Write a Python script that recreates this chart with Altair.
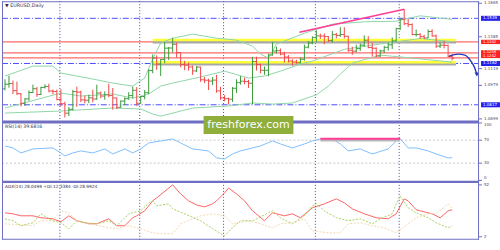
import altair as alt
import pandas as pd

# ---------------- data ----------------
date_labels = ["11 Dec 2015", "23 Dec 2015", "6 Jan 2016", "18 Jan 2016", "28 Jan 2016",
               "9 Feb 2016", "19 Feb 2016", "2 Mar 2016", "14 Mar 2016", "24 Mar 2016",
               "5 Apr 2016", "15 Apr 2016", "27 Apr 2016", "9 May 2016", "19 May 2016"]
label_bars = [0, 8, 16, 24, 32, 40, 48, 56, 64, 72, 80, 88, 96, 104, 112]
month_start_bars = [14, 34, 55, 78, 99]

opens = [1.0950, 1.0989, 1.0994, 1.0935, 1.0910, 1.0829, 1.0866, 1.0920, 1.0951, 1.0903, 1.0962, 1.0970, 1.0932, 1.0928,
         1.0861, 1.0826, 1.0747, 1.0779, 1.0927, 1.0923, 1.0858, 1.0855, 1.0875, 1.0865, 1.0915, 1.0890, 1.0900, 1.0894,
         1.0874, 1.0796, 1.0848, 1.0868, 1.0894, 1.0938,
         1.0830, 1.0886, 1.0918, 1.1104, 1.1208, 1.1157, 1.1196, 1.1290, 1.1291, 1.1322, 1.1254, 1.1153, 1.1148, 1.1133,
         1.1100, 1.1132, 1.1026, 1.1022, 1.1015, 1.1023, 1.0933,
         1.0874, 1.0868, 1.0864, 1.0955, 1.1002, 1.1014, 1.1011, 1.0997, 1.1178, 1.1154, 1.1105, 1.1105, 1.1233, 1.1266,
         1.1269, 1.1240, 1.1216, 1.1183, 1.1174, 1.1168, 1.1197, 1.1298, 1.1333,
         1.1380, 1.1392, 1.1391, 1.1387, 1.1353, 1.1403, 1.1396, 1.1404, 1.1389, 1.1272, 1.1265, 1.1286, 1.1315, 1.1356,
         1.1295, 1.1289, 1.1225, 1.1267, 1.1297, 1.1318, 1.1350,
         1.1453, 1.1532, 1.1494, 1.1487, 1.1404, 1.1404, 1.1386, 1.1375, 1.1429, 1.1392, 1.1307, 1.1315, 1.1313, 1.1220]
highs = [1.1030, 1.1060, 1.1019, 1.1010, 1.0915, 1.0873, 1.0937, 1.0985, 1.0966, 1.0968, 1.0988, 1.0993, 1.0945, 1.0944,
         1.0947, 1.0842, 1.0798, 1.0941, 1.0969, 1.0935, 1.0894, 1.0902, 1.0943, 1.0985, 1.0928, 1.0930, 1.0992, 1.0957,
         1.0878, 1.0853, 1.0880, 1.0922, 1.0969, 1.0965,
         1.0890, 1.0940, 1.1113, 1.1237, 1.1230, 1.1199, 1.1339, 1.1300, 1.1376, 1.1338, 1.1255, 1.1184, 1.1171, 1.1145,
         1.1140, 1.1135, 1.1050, 1.1035, 1.1048, 1.1067, 1.0968,
         1.0897, 1.0876, 1.0965, 1.1030, 1.1057, 1.1044, 1.1025, 1.1217, 1.1218, 1.1160, 1.1136, 1.1242, 1.1342, 1.1303,
         1.1287, 1.1259, 1.1232, 1.1197, 1.1192, 1.1212, 1.1320, 1.1348, 1.1388,
         1.1440, 1.1411, 1.1412, 1.1392, 1.1433, 1.1417, 1.1465, 1.1465, 1.1393, 1.1302, 1.1319, 1.1329, 1.1396, 1.1390,
         1.1338, 1.1296, 1.1277, 1.1310, 1.1338, 1.1380, 1.1460,
         1.1536, 1.1616, 1.1533, 1.1497, 1.1445, 1.1416, 1.1402, 1.1446, 1.1448, 1.1404, 1.1339, 1.1350, 1.1320, 1.1241]
lows = [1.0938, 1.0960, 1.0907, 1.0898, 1.0804, 1.0807, 1.0850, 1.0915, 1.0883, 1.0900, 1.0953, 1.0922, 1.0905, 1.0855,
        1.0804, 1.0711, 1.0723, 1.0771, 1.0801, 1.0840, 1.0829, 1.0831, 1.0837, 1.0859, 1.0872, 1.0859, 1.0880, 1.0776,
        1.0782, 1.0792, 1.0815, 1.0858, 1.0870, 1.0810,
        1.0825, 1.0862, 1.0906, 1.1080, 1.1108, 1.1058, 1.1164, 1.1191, 1.1255, 1.1211, 1.1131, 1.1106, 1.1102, 1.1067,
        1.1090, 1.1009, 1.0998, 1.0940, 1.0981, 1.0918, 1.0859,
        1.0847, 1.0820, 1.0841, 1.0916, 1.0985, 1.0988, 1.0958, 1.0822, 1.1103, 1.1080, 1.1068, 1.1055, 1.1227, 1.1246,
        1.1230, 1.1170, 1.1170, 1.1144, 1.1160, 1.1163, 1.1185, 1.1288, 1.1323,
        1.1341, 1.1368, 1.1323, 1.1341, 1.1336, 1.1371, 1.1385, 1.1371, 1.1259, 1.1234, 1.1256, 1.1267, 1.1302, 1.1289,
        1.1219, 1.1216, 1.1215, 1.1250, 1.1270, 1.1283, 1.1345,
        1.1441, 1.1483, 1.1466, 1.1397, 1.1387, 1.1368, 1.1367, 1.1374, 1.1385, 1.1292, 1.1291, 1.1288, 1.1214, 1.1188]
closes = [1.0989, 1.0994, 1.0935, 1.0910, 1.0829, 1.0866, 1.0920, 1.0951, 1.0903, 1.0962, 1.0970, 1.0932, 1.0928, 1.0861,
          1.0826, 1.0747, 1.0779, 1.0927, 1.0923, 1.0858, 1.0855, 1.0875, 1.0865, 1.0915, 1.0890, 1.0900, 1.0894, 1.0874,
          1.0796, 1.0848, 1.0868, 1.0894, 1.0938, 1.0830,
          1.0886, 1.0918, 1.1104, 1.1208, 1.1157, 1.1196, 1.1290, 1.1291, 1.1322, 1.1254, 1.1153, 1.1148, 1.1133, 1.1100,
          1.1132, 1.1026, 1.1022, 1.1015, 1.1023, 1.0933, 1.0874,
          1.0868, 1.0864, 1.0955, 1.1002, 1.1014, 1.1011, 1.0997, 1.1178, 1.1154, 1.1105, 1.1105, 1.1233, 1.1266, 1.1269,
          1.1240, 1.1216, 1.1183, 1.1174, 1.1168, 1.1197, 1.1298, 1.1333, 1.1380,
          1.1392, 1.1391, 1.1387, 1.1353, 1.1403, 1.1396, 1.1404, 1.1389, 1.1272, 1.1265, 1.1286, 1.1315, 1.1356, 1.1295,
          1.1289, 1.1225, 1.1267, 1.1297, 1.1318, 1.1350, 1.1453,
          1.1532, 1.1494, 1.1487, 1.1404, 1.1404, 1.1386, 1.1375, 1.1429, 1.1392, 1.1307, 1.1315, 1.1313, 1.1220, 1.1205]

bb_up_i = [0, 7, 12, 14, 22, 27, 32, 35, 37, 39, 42, 47, 53, 58, 62, 64, 66, 68, 75, 82, 90, 98, 104, 112]
bb_up_p = [1.1057, 1.1140, 1.1140, 1.1082, 1.1032, 1.0998, 1.0973, 1.1040, 1.1200, 1.1332, 1.1373, 1.1407, 1.1373,
           1.1357, 1.1307, 1.1240, 1.1207, 1.1323, 1.1415, 1.1490, 1.1510, 1.1515, 1.1560, 1.1530]
bb_mid_i = [0, 14, 19, 27, 32, 36, 39, 42, 50, 55, 61, 65, 69, 74, 77, 85, 95, 104, 112]
bb_mid_p = [1.0790, 1.0915, 1.0890, 1.0907, 1.0873, 1.0907, 1.0973, 1.0998, 1.1057, 1.1098, 1.1040, 1.1057, 1.1098,
            1.1157, 1.1182, 1.1280, 1.1330, 1.1370, 1.1345]
bb_low_i = [0, 14, 27, 34, 37, 39, 47, 56, 62, 67, 72, 78, 81, 84, 87, 94, 102, 112]
bb_low_p = [1.0748, 1.0765, 1.0790, 1.0782, 1.0740, 1.0722, 1.0790, 1.0807, 1.0832, 1.0823, 1.0832, 1.0900, 1.0973,
            1.1073, 1.1165, 1.1232, 1.1207, 1.1173]

blue_levels = [1.1539, 1.1162, 1.0817]
red_line_levels = [1.1342, 1.1250, 1.1208]
red_labels = ["1.1342", "1.1258", "1.1242"]
red_label_pos = [1.1342, 1.1257, 1.1221]
red_box_lo = [1.1324, 1.1207]
red_box_hi = [1.1360, 1.1273]
yellow_levels = [1.1357, 1.1173]
yellow_from, yellow_to = 37, 113
gray_price_labels = [1.1665, 1.1385, 1.1119, 1.0979, 1.0699]

trend_i = [73.75, 100]
trend_p = [1.1423, 1.1615]
arrow_i = [111.2, 113.5, 115.2, 116.7, 117.7, 118.2]
arrow_p = [1.1223, 1.1240, 1.1232, 1.1182, 1.1123, 1.1070]

rsi_i = [0, 2, 4, 7, 12, 14, 15, 17, 19, 22, 25, 27, 30, 32, 34, 36, 39, 42, 44, 47, 51, 53, 55, 57, 59, 62, 64, 67,
         69, 72, 75, 77, 79, 82, 84, 86, 89, 92, 96, 98, 99, 101, 103, 106, 108, 111, 112]
rsi_v = [60, 56.5, 47.8, 54.8, 56.5, 47.8, 42.6, 47.8, 51.3, 47.8, 54.8, 46, 54.8, 47.8, 54.8, 65.2, 68.7, 72.2, 65.2,
         54.8, 51.3, 39.1, 37.4, 46, 51.3, 56.5, 60, 68.7, 63.5, 56.5, 63.5, 68.7, 72.2, 72, 63.5, 51.3, 54.8, 46, 54.8,
         68.7, 72.5, 56.5, 56.5, 51.3, 46, 39.1, 39.68]
rsi_levels = [70, 30]
rsi_div_i = [79, 99]
rsi_div_v = [72.5, 72.5]

adx_i = [0, 2, 4, 7, 9, 12, 14, 16, 18, 21, 23, 26, 28, 30, 32, 33, 35, 37, 38, 42, 44, 46, 48, 50, 52, 53, 55, 56,
         58, 60, 62, 65, 67, 70, 72, 74, 77, 80, 83, 85, 87, 90, 93, 96, 98, 100, 101, 103, 107, 109, 111, 112]
adx_v = [25.1, 24.1, 22.2, 22.2, 20.3, 19.3, 16.4, 22.2, 17.4, 14.5, 14.5, 19.3, 12.6, 12.6, 20.3, 22.2, 27, 36.6,
         39.5, 52, 43.3, 36.6, 32.7, 30.8, 33.7, 36.6, 44.3, 49, 43.3, 36.6, 27, 17.4, 25.1, 22.2, 24.1, 20.3, 29.9,
         33.7, 38.5, 34.7, 28.9, 24.1, 20.3, 19.3, 24.1, 38.5, 36.6, 28, 24.1, 20.3, 27, 28.05]
pdi_i = [0, 2, 4, 7, 9, 12, 14, 16, 18, 20, 23, 26, 28, 31, 32, 34, 36, 37, 38, 41, 42, 45, 49, 52, 55, 57, 59, 62,
         67, 69, 72, 75, 77, 78, 80, 83, 86, 89, 92, 94, 97, 98, 99, 101, 103, 106, 108, 111, 112]
pdi_v = [19.3, 17.4, 12.6, 15.5, 24.1, 17.4, 15.5, 9.7, 17.4, 15.5, 14.5, 17.4, 12.6, 24.1, 25.1, 27, 34.7, 36.6,
         31.8, 33.7, 28.9, 24.1, 17.4, 9.7, 3, 10.7, 17.4, 17.4, 27, 20.3, 14.5, 22.2, 31.8, 33.7, 27, 20.3, 17.4,
         19.3, 14.5, 19.3, 24.1, 33.7, 41.4, 29.9, 25.1, 20.3, 15.5, 10.7, 12.34]
mdi_i = [0, 7, 9, 12, 14, 16, 18, 21, 26, 28, 31, 34, 37, 39, 42, 44, 47, 49, 52, 55, 57, 61, 64, 67, 69, 72, 75,
         77, 81, 84, 86, 89, 92, 95, 98, 101, 103, 106, 108, 111, 112]
mdi_v = [14.5, 12.6, 17.4, 17.4, 27, 25.1, 17.4, 14.5, 10.7, 9.7, 12.6, 9.7, 5.8, 4.9, 4.9, 14.5, 19.3, 22.2, 24.1,
         22.2, 14.5, 17.4, 14.5, 10.7, 14.5, 15.5, 19.3, 7.8, 5.8, 5.8, 14.5, 15.5, 12.6, 10.7, 5.8, 14.5, 20.3, 24.1,
         24.1, 33.7, 28.99]

# ---------------- style ----------------
W = 478
FONT = "DejaVu Sans"
FRAME = "#6e6ec2"
SEP = "#4a4a9a"
TXT = "#4a4a6a"
GREEN = "#3a9a3a"
RED = "#f04848"
BB = "#8fd6a8"

xs = alt.Scale(domain=[-0.75, 118.75], nice=False, zero=False)
price_scale = alt.Scale(domain=[1.06733, 1.16817], nice=False, zero=False)
rsi_scale = alt.Scale(domain=[-2.6, 101.7], nice=False, zero=False)
adx_scale = alt.Scale(domain=[-0.9, 54.9], nice=False, zero=False)


def X(field):
    return alt.X(field, scale=xs, axis=None)


def PY(field):
    return alt.Y(field, scale=price_scale, axis=None)


def RY(field):
    return alt.Y(field, scale=rsi_scale, axis=None)


def AY(field):
    return alt.Y(field, scale=adx_scale, axis=None)


bars = pd.DataFrame({"i": list(range(len(closes))), "o": opens, "h": highs, "l": lows, "c": closes})
bars["a"] = bars["i"] - 0.5
bars["b"] = bars["i"] + 0.5
up_bars = bars[bars["c"] >= bars["o"]]
down_bars = bars[bars["c"] < bars["o"]]

sep_df = pd.DataFrame({"i": [m - 0.25 for m in month_start_bars]})
frame_df = pd.DataFrame({"k": ["frame"]})


def separators():
    return alt.Chart(sep_df).mark_rule(color=SEP, strokeDash=[1, 2], strokeWidth=1).encode(x=X("i:Q"))


def side_borders(h, top=False, bottom=False):
    base = alt.Chart(frame_df)
    out = [
        base.mark_rule(color=FRAME, strokeWidth=1).encode(x=alt.value(0.5), y=alt.value(0), y2=alt.value(h)),
        base.mark_rule(color=FRAME, strokeWidth=1).encode(x=alt.value(W - 0.5), y=alt.value(0), y2=alt.value(h)),
    ]
    if top:
        out.append(base.mark_rule(color=FRAME, strokeWidth=1).encode(
            x=alt.value(0), x2=alt.value(W), y=alt.value(0.5)))
    if bottom:
        out.append(base.mark_rule(color=FRAME, strokeWidth=1).encode(
            x=alt.value(0), x2=alt.value(W), y=alt.value(h - 0.5)))
    return out


def ohlc(df, color):
    base = alt.Chart(df)
    return [
        base.mark_rule(color=color, strokeWidth=1).encode(x=X("i:Q"), y=PY("l:Q"), y2="h:Q"),
        base.mark_rule(color=color, strokeWidth=1).encode(x=X("a:Q"), x2="i:Q", y=PY("o:Q")),
        base.mark_rule(color=color, strokeWidth=1).encode(x=X("i:Q"), x2="b:Q", y=PY("c:Q")),
    ]


# ---- main panel ----
bb_df = pd.concat([
    pd.DataFrame({"i": bb_up_i, "p": bb_up_p, "band": "upper"}),
    pd.DataFrame({"i": bb_mid_i, "p": bb_mid_p, "band": "middle"}),
    pd.DataFrame({"i": bb_low_i, "p": bb_low_p, "band": "lower"}),
])

line_ends = {"a": -0.75, "b": 118.75}
blue_df = pd.DataFrame({"p": blue_levels, **line_ends})
red_df = pd.DataFrame({"p": red_line_levels, **line_ends})
yel_df = pd.DataFrame({"p": yellow_levels, "a": yellow_from, "b": yellow_to})

hl_blue = alt.Chart(blue_df).mark_rule(color="#4b4bff", strokeDash=[6, 2, 1, 2], strokeWidth=1).encode(
    y=PY("p:Q"), x=X("a:Q"), x2="b:Q")
hl_red = alt.Chart(red_df).mark_rule(color="#ff6b6b", strokeWidth=1.3).encode(
    y=PY("p:Q"), x=X("a:Q"), x2="b:Q")
yel_shadow = alt.Chart(yel_df).mark_rule(color="#a8a8a8", strokeWidth=2.5, yOffset=2.2).encode(
    y=PY("p:Q"), x=X("a:Q"), x2="b:Q")
yel = alt.Chart(yel_df).mark_rule(color="#ffff3a", strokeWidth=2.5).encode(
    y=PY("p:Q"), x=X("a:Q"), x2="b:Q")

bb_lines = alt.Chart(bb_df).mark_line(color=BB, strokeWidth=1).encode(
    x=X("i:Q"), y=PY("p:Q"), detail="band:N")

trend = alt.Chart(pd.DataFrame({"i": trend_i, "p": trend_p})).mark_line(color="#ff3c96", strokeWidth=1.6).encode(
    x=X("i:Q"), y=PY("p:Q"))
arrow_df = pd.DataFrame({"i": arrow_i, "p": arrow_p})
arrow = alt.Chart(arrow_df).mark_line(color="#2438c0", strokeWidth=1.4, interpolate="monotone").encode(
    x=X("i:Q"), y=PY("p:Q"))
arrow_head = alt.Chart(arrow_df.tail(1).reset_index(drop=True)).mark_point(
    shape="triangle-down", filled=True, size=22, color="#2438c0", opacity=1).encode(x=X("i:Q"), y=PY("p:Q"))

gl_df = pd.DataFrame({"p": gray_price_labels, "t": ["%.4f" % v for v in gray_price_labels]})
gray_lab = alt.Chart(gl_df).mark_text(font=FONT, fontSize=4, align="left", baseline="middle",
                                      color=TXT).encode(x=alt.value(483), y=PY("p:Q"), text="t:N")
gray_tick = alt.Chart(gl_df).mark_rule(color=FRAME).encode(y=PY("p:Q"), x=alt.value(W), x2=alt.value(481))

bl_df = pd.DataFrame({"p": blue_levels, "t": ["%.4f" % v for v in blue_levels]})
bl_df["y1"] = bl_df["p"] - 0.0021
bl_df["y2"] = bl_df["p"] + 0.0021
rb_df = pd.DataFrame({"y1": red_box_lo, "y2": red_box_hi})
rl_df = pd.DataFrame({"p": red_label_pos, "t": red_labels})

blue_box = alt.Chart(bl_df).mark_rect(color="#2222ee").encode(
    y=PY("y1:Q"), y2="y2:Q", x=alt.value(480), x2=alt.value(499))
red_box = alt.Chart(rb_df).mark_rect(color="#ff2222").encode(
    y=PY("y1:Q"), y2="y2:Q", x=alt.value(480), x2=alt.value(499))
blue_txt = alt.Chart(bl_df).mark_text(font=FONT, fontSize=4, align="left", baseline="middle",
                                      color="white").encode(x=alt.value(482), y=PY("p:Q"), text="t:N")
red_txt = alt.Chart(rl_df).mark_text(font=FONT, fontSize=3.8, align="left", baseline="middle",
                                     color="white").encode(x=alt.value(482), y=PY("p:Q"), text="t:N")

title = alt.Chart(pd.DataFrame({"t": ["\u25bc EURUSD,Daily"]})).mark_text(
    font=FONT, fontSize=4.8, align="left", baseline="middle", color="#303050").encode(
    x=alt.value(3), y=alt.value(5), text="t:N")

main_layers = [separators(), hl_blue, hl_red, yel_shadow, yel, bb_lines] + ohlc(up_bars, GREEN) + \
    ohlc(down_bars, RED) + [trend, arrow, arrow_head, gray_tick, gray_lab, blue_box, red_box, blue_txt, red_txt,
                            title] + side_borders(121, top=True)
main = alt.layer(*main_layers).properties(width=W, height=121)

# ---- RSI panel ----
rsi_lvl = alt.Chart(pd.DataFrame({"v": rsi_levels, **line_ends})).mark_rule(
    color="#c8c8c8", strokeDash=[2, 2]).encode(y=RY("v:Q"), x=X("a:Q"), x2="b:Q")
rsi_line = alt.Chart(pd.DataFrame({"i": rsi_i, "v": rsi_v})).mark_line(color="#7fbfff", strokeWidth=1).encode(
    x=X("i:Q"), y=RY("v:Q"))
rsi_div_df = pd.DataFrame({"i": rsi_div_i, "v": rsi_div_v})
rsi_div_sh = alt.Chart(rsi_div_df).mark_line(color="#b8b8b8", strokeWidth=2.5, yOffset=1.5).encode(
    x=X("i:Q"), y=RY("v:Q"))
rsi_div = alt.Chart(rsi_div_df).mark_line(color="#ff3c96", strokeWidth=2).encode(x=X("i:Q"), y=RY("v:Q"))
rsi_tick_df = pd.DataFrame({"v": [100, 70, 30, 0], "t": ["100", "70", "30", "0"]})
rsi_ticks = alt.Chart(rsi_tick_df).mark_rule(color=FRAME).encode(y=RY("v:Q"), x=alt.value(W), x2=alt.value(481))
rsi_lab_top = alt.Chart(rsi_tick_df.iloc[[0]]).mark_text(font=FONT, fontSize=4, align="left", baseline="top",
                                                         color=TXT).encode(x=alt.value(483), y=RY("v:Q"), text="t:N")
rsi_lab_mid = alt.Chart(rsi_tick_df.iloc[[1, 2]]).mark_text(font=FONT, fontSize=4, align="left",
                                                            baseline="middle", color=TXT).encode(
    x=alt.value(483), y=RY("v:Q"), text="t:N")
rsi_lab_bot = alt.Chart(rsi_tick_df.iloc[[3]]).mark_text(font=FONT, fontSize=4, align="left", baseline="bottom",
                                                         color=TXT).encode(x=alt.value(483), y=RY("v:Q"), text="t:N")
rsi_title = alt.Chart(pd.DataFrame({"t": ["RSI(14) 39.6816"]})).mark_text(
    font=FONT, fontSize=4.6, align="left", baseline="middle", color="#303050").encode(
    x=alt.value(3), y=alt.value(5.5), text="t:N")
thick1 = alt.Chart(pd.DataFrame({"a": [-0.75], "b": [118.75]})).mark_rule(color=FRAME, strokeWidth=3).encode(
    x=X("a:Q"), x2="b:Q", y=alt.value(0))
wm_box = alt.Chart(pd.DataFrame({"t": ["freshforex.com"]})).mark_rect(color="#8fae3c").encode(
    x=alt.value(202), x2=alt.value(292), y=alt.value(-6), y2=alt.value(12))
wm_txt = alt.Chart(pd.DataFrame({"t": ["freshforex.com"]})).mark_text(
    font=FONT, fontSize=11, color="white", align="center", baseline="middle").encode(
    x=alt.value(247), y=alt.value(3.5), text="t:N")

rsi = alt.layer(*([separators(), rsi_lvl, rsi_line, rsi_div_sh, rsi_div, rsi_ticks, rsi_lab_top, rsi_lab_mid,
                   rsi_lab_bot, rsi_title] + side_borders(60) + [thick1, wm_box, wm_txt])).properties(
    width=W, height=60)

# ---- ADX panel ----
label_js = "[" + ",".join("'%s'" % s for s in date_labels) + "]"
xaxis = alt.Axis(values=label_bars, labelExpr=label_js + "[round(datum.value / 8)]",
                 labelAlign="left", labelFont=FONT, labelFontSize=4, labelColor=TXT,
                 labelPadding=1, tickSize=2, tickColor=FRAME, domain=False, grid=False,
                 title=None, labelOverlap=False, labelFlush=False)
adx_line = alt.Chart(pd.DataFrame({"i": adx_i, "v": adx_v})).mark_line(color="#ff6464", strokeWidth=1).encode(
    x=alt.X("i:Q", scale=xs, axis=xaxis), y=AY("v:Q"))
pdi_line = alt.Chart(pd.DataFrame({"i": pdi_i, "v": pdi_v})).mark_line(color="#a8d060", strokeWidth=1,
                                                                       strokeDash=[2, 1.5]).encode(
    x=X("i:Q"), y=AY("v:Q"))
mdi_line = alt.Chart(pd.DataFrame({"i": mdi_i, "v": mdi_v})).mark_line(color="#f2d8b0", strokeWidth=1,
                                                                       strokeDash=[2, 1.5]).encode(
    x=X("i:Q"), y=AY("v:Q"))
adx_lab_df = pd.DataFrame({"v": [52, 2], "t": ["52", "2"]})
adx_ticks = alt.Chart(adx_lab_df).mark_rule(color=FRAME).encode(y=AY("v:Q"), x=alt.value(W), x2=alt.value(481))
adx_labs = alt.Chart(adx_lab_df).mark_text(font=FONT, fontSize=4, align="left", baseline="middle",
                                           color=TXT).encode(x=alt.value(483), y=AY("v:Q"), text="t:N")
adx_title = alt.Chart(pd.DataFrame({"t": ["ADX(14) 28.0499 +DI:12.3384 -DI:28.9924"]})).mark_text(
    font=FONT, fontSize=4.3, align="left", baseline="middle", color="#303050").encode(
    x=alt.value(3), y=alt.value(5), text="t:N")
thick2 = alt.Chart(pd.DataFrame({"a": [-0.75], "b": [118.75]})).mark_rule(color=FRAME, strokeWidth=2.5).encode(
    x=X("a:Q"), x2="b:Q", y=alt.value(0))

adx = alt.layer(*([adx_line, separators(), mdi_line, pdi_line, adx_ticks, adx_labs, adx_title] +
                  side_borders(58, bottom=True) + [thick2])).properties(width=W, height=58)

chart = alt.vconcat(main, rsi, adx, spacing=0, bounds="flush").properties(
    padding={"left": 0, "top": 0, "right": 0, "bottom": 0}, background="white"
).configure_view(stroke=None)

chart.save("out.html", embed_options={"renderer": "svg", "actions": False})
